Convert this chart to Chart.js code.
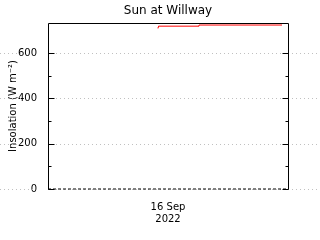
<!DOCTYPE html>
<html>
<head>
<meta charset="utf-8">
<script src="https://cdn.jsdelivr.net/npm/chart.js@4"></script>
<style>
  html, body { margin: 0; padding: 0; background: #fff; }
  #wrap { width: 320px; height: 240px; }
</style>
</head>
<body>
<div id="wrap"><canvas id="c"></canvas></div>
<script>
// horas del dia (16 Sep 2022) y valores de insolacion
const sunHours = [11.0, 11.05, 15.1, 19.2, 23.4];
const sunValues = [709, 714, 719, 724, 724];
const zeroHours = [0, 24];
const zeroValues = [0, 0];
const dayTicks = [12];
const dayLabel = ['16 Sep', '2022'];
const yMajor = [0, 200, 400, 600];
const titleText = 'Sun at Willway';

// plugin: titulo centrado sobre el area, lineas punteadas a todo el ancho, marco y marcas menores
const frame = {
  id: 'frame',
  beforeDatasetsDraw(chart) {
    const { ctx, chartArea: a, scales } = chart;
    const y = scales.y;
    ctx.save();
    ctx.font = '10px "DejaVu Sans"';
    ctx.strokeStyle = '#c0c0c0';
    ctx.lineWidth = 1;
    ctx.setLineDash([1, 3]);
    yMajor.forEach(v => {
      const py = Math.round(y.getPixelForValue(v)) + 0.5;
      const w = ctx.measureText(String(v)).width;
      ctx.beginPath();
      ctx.moveTo(0, py);
      ctx.lineTo(a.left - 8 - w, py);
      ctx.moveTo(a.left, py);
      ctx.lineTo(chart.width, py);
      ctx.stroke();
    });
    ctx.setLineDash([]);
    ctx.fillStyle = '#000';
    ctx.font = '12px "DejaVu Sans"';
    ctx.textAlign = 'center';
    ctx.textBaseline = 'middle';
    ctx.fillText(titleText, (a.left + a.right) / 2, 11);
    ctx.restore();
  },
  afterDatasetsDraw(chart) {
    const { ctx, chartArea: a, scales } = chart;
    const y = scales.y;
    const L = Math.round(a.left) + 0.5, R = Math.round(a.right) + 0.5;
    const T = Math.round(a.top) + 0.5, B = Math.round(a.bottom) + 0.5;
    ctx.save();
    ctx.strokeStyle = '#000';
    ctx.lineWidth = 1;
    ctx.beginPath();
    ctx.moveTo(L, B); ctx.lineTo(L, T); ctx.lineTo(R, T); ctx.lineTo(R, B);
    y.ticks.forEach(t => {
      if (t.value % 50 !== 0) return;
      const len = t.value % 200 === 0 ? 6 : 3;
      const py = Math.round(y.getPixelForValue(t.value)) + 0.5;
      ctx.moveTo(L, py); ctx.lineTo(L + len, py);
      ctx.moveTo(R, py); ctx.lineTo(R - len, py);
    });
    ctx.stroke();
    ctx.restore();
  }
};

new Chart(document.getElementById('c'), {
  type: 'line',
  data: {
    datasets: [
      {
        label: 'Sun',
        data: sunHours.map((h, i) => ({ x: h, y: sunValues[i] })),
        borderColor: '#ff0000',
        borderWidth: 1,
        pointRadius: 0,
        stepped: 'after',
        fill: false,
      },
      {
        label: 'zero',
        data: zeroHours.map((h, i) => ({ x: h, y: zeroValues[i] })),
        borderColor: '#000',
        borderWidth: 1,
        borderDash: [3, 2],
        pointRadius: 0,
        fill: false,
        clip: 4,
      },
    ],
  },
  options: {
    responsive: true,
    maintainAspectRatio: false,
    animation: false,
    events: [],
    layout: { padding: { left: 0, right: 32, top: 23, bottom: 0 } },
    plugins: {
      legend: { display: false },
      tooltip: { enabled: false },
      title: { display: false },
    },
    scales: {
      x: {
        type: 'linear',
        min: 0,
        max: 24,
        grid: { display: false },
        border: { display: false },
        afterBuildTicks(scale) { scale.ticks = dayTicks.map(v => ({ value: v })); },
        afterFit(scale) { scale.height = 51; },
        ticks: {
          color: '#000',
          padding: 4,
          maxRotation: 0,
          font: { family: '"DejaVu Sans"', size: 10 },
          callback: () => dayLabel,
        },
      },
      y: {
        min: 0,
        max: 733,
        grid: { display: false },
        border: { display: false },
        afterFit(scale) { scale.width = 48; },
        ticks: {
          stepSize: 50,
          color: '#000',
          padding: 3,
          font: { family: '"DejaVu Sans"', size: 10 },
          callback: v => (v % 200 === 0 ? String(v) : ''),
        },
        title: {
          display: true,
          text: 'Insolation (W m⁻²)',
          color: '#000',
          font: { family: '"DejaVu Sans"', size: 10 },
          padding: { top: 7, bottom: 0 },
        },
      },
    },
  },
  plugins: [frame],
});
</script>
</body>
</html>
